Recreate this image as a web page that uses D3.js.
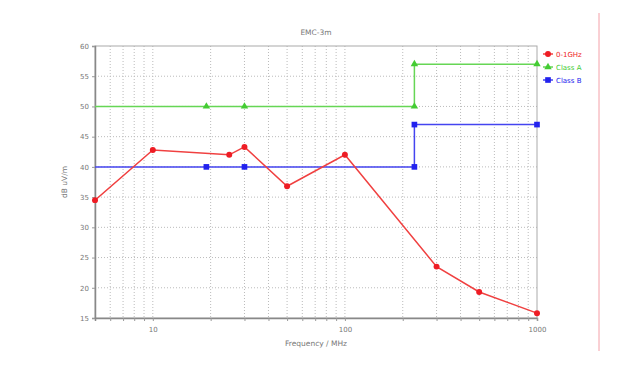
<!DOCTYPE html>
<html><head><meta charset="utf-8">
<script src="https://cdn.jsdelivr.net/npm/d3@7"></script>
<style>body{margin:0;background:#fff}svg{display:block}text{font-family:"DejaVu Sans",Verdana,sans-serif}</style>
</head><body><svg id="c" width="640" height="382"></svg>
<script>
const title = "EMC-3m";
const xLabel = "Frequency / MHz";
const yLabel = "dB uV/m";
const seriesNames = ["0-1GHz", "Class A", "Class B"];
const redFreq = [5, 10, 25, 30, 50, 100, 300, 500, 1000];
const redVal = [34.5, 42.8, 42, 43.3, 36.8, 42, 23.5, 19.3, 15.8];
const classAFreq = [1, 19, 30, 230, 230, 1000];
const classAVal = [50, 50, 50, 50, 57, 57];
const classBFreq = [1, 19, 30, 230, 230, 1000];
const classBVal = [40, 40, 40, 40, 47, 47];
const yTicks = [15, 20, 25, 30, 35, 40, 45, 50, 55, 60];
const xTickLabels = [10, 100, 1000];

const svg = d3.select("#c");
const m = {l: 95, t: 46, r: 537, b: 318};
const x = d3.scaleLog().domain([5, 1000]).range([m.l, m.r]);
const y = d3.scaleLinear().domain([15, 60]).range([m.b, m.t]);

svg.append("defs").append("clipPath").attr("id","clip").append("rect")
  .attr("x", m.l - 4).attr("y", m.t - 4).attr("width", m.r - m.l + 8).attr("height", m.b - m.t + 8);
svg.append("defs").append("clipPath").attr("id","clipL").append("rect")
  .attr("x", m.l).attr("y", m.t - 4).attr("width", m.r - m.l + 4).attr("height", m.b - m.t + 8);

// grid
const minor = [];
for (const d of [1, 10, 100]) for (let k = 1; k <= 9; k++) { const v = d * k; if (v > 5 && v < 1000) minor.push(v); }
const g = svg.append("g");
g.selectAll(".vx").data(minor).join("line")
  .attr("x1", d => x(d)).attr("x2", d => x(d)).attr("y1", m.t).attr("y2", m.b)
  .attr("stroke", "#bbb").attr("stroke-width", 1).attr("stroke-dasharray", "1,2");
g.selectAll(".hy").data(yTicks.slice(1, -1)).join("line")
  .attr("x1", m.l).attr("x2", m.r).attr("y1", d => y(d)).attr("y2", d => y(d))
  .attr("stroke", "#bbb").attr("stroke-width", 1).attr("stroke-dasharray", "1,2");

// frame
svg.append("rect").attr("x", m.l).attr("y", m.t).attr("width", m.r - m.l).attr("height", m.b - m.t)
  .attr("fill", "none").attr("stroke", "#aaa").attr("stroke-width", 1);

// axes
const yAxis = d3.axisLeft(y).tickValues(yTicks).tickSize(3).tickFormat(d3.format("d"));
const ya = svg.append("g").attr("transform", `translate(${m.l},0)`).call(yAxis);
const xAxis = d3.axisBottom(x).tickValues(minor.concat([1000])).tickSize(3)
  .tickFormat(d => xTickLabels.includes(d) ? d : "");
const xa = svg.append("g").attr("transform", `translate(0,${m.b})`).call(xAxis);
for (const a of [ya, xa]) {
  a.select(".domain").attr("stroke", "#888").attr("stroke-width", 1.5);
  a.selectAll(".tick line").attr("stroke", "#999");
  a.selectAll("text").attr("fill", "#777").attr("font-size", 7);
}
xa.selectAll("text").attr("dy", "1.1em");

// title & labels
svg.append("text").attr("x", 316).attr("y", 35).attr("text-anchor", "middle")
  .attr("font-size", 7.5).attr("fill", "#777").text(title);
svg.append("text").attr("x", 316).attr("y", 346).attr("text-anchor", "middle")
  .attr("font-size", 7.5).attr("fill", "#777").text(xLabel);
svg.append("text").attr("transform", `translate(67,${(m.t + m.b) / 2}) rotate(-90)`).attr("text-anchor", "middle")
  .attr("font-size", 7.5).attr("fill", "#777").text(yLabel);

// series
const colors = ["#ee1c24", "#44cc33", "#2222ee"];
const lineColors = ["#f04040", "#66d655", "#4444f0"];
const series = [
  {f: redFreq, v: redVal, c: 0, shape: d3.symbolCircle, size: 28},
  {f: classAFreq, v: classAVal, c: 1, shape: d3.symbolTriangle, size: 24},
  {f: classBFreq, v: classBVal, c: 2, shape: d3.symbolSquare, size: 32}
];
const line = d3.line().x(d => x(d[0])).y(d => y(d[1]));
const plot = svg.append("g").attr("clip-path", "url(#clipL)");
const marks = svg.append("g").attr("clip-path", "url(#clip)");
for (const s of series.slice().reverse()) {
  const pts = s.f.map((f, i) => [f, s.v[i]]);
  plot.append("path").datum(pts).attr("d", line).attr("fill", "none")
    .attr("stroke", lineColors[s.c]).attr("stroke-width", 1.5);
  marks.selectAll(null).data(pts.filter(p => p[0] >= 5)).join("path")
    .attr("transform", p => `translate(${x(p[0])},${y(p[1])})`)
    .attr("d", d3.symbol().type(s.shape).size(s.size))
    .attr("fill", colors[s.c]);
}

// legend
seriesNames.forEach((n, i) => {
  const ly = 54 + i * 13;
  svg.append("line").attr("x1", 543).attr("x2", 553).attr("y1", ly).attr("y2", ly)
    .attr("stroke", lineColors[i]).attr("stroke-width", 1.5);
  svg.append("path").attr("transform", `translate(548,${ly})`)
    .attr("d", d3.symbol().type(series[i].shape).size(series[i].size)).attr("fill", colors[i]);
  svg.append("text").attr("x", 556).attr("y", ly + 2.5).attr("font-size", 7).attr("fill", colors[i]).text(n);
});

// right divider
svg.append("line").attr("x1", 599).attr("x2", 599).attr("y1", 13).attr("y2", 351)
  .attr("stroke", "#f4a0a8").attr("stroke-width", 1);
</script></body></html>
